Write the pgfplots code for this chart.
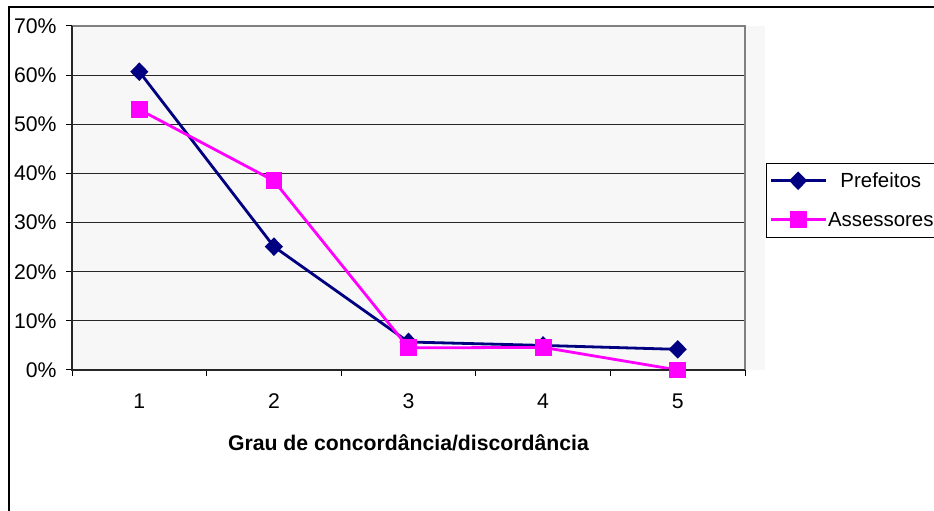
\documentclass[border=0pt]{standalone}
\usepackage{pgfplots}
\pgfplotsset{compat=1.18}
\usepackage{fontspec}
\setmainfont{Liberation Sans}
\definecolor{navyc}{HTML}{000080}
\definecolor{magc}{HTML}{FF00FF}
\definecolor{plotbg}{HTML}{F7F7F7}
\definecolor{bordergray}{HTML}{808080}
\begin{document}
\begin{tikzpicture}[x=1bp,y=1bp]
\useasboundingbox (0,0) rectangle (934,511);
\fill[white] (0,0) rectangle (934,511);
\draw[black, line width=1.3bp] (9,-5) -- (9,504) -- (945,504);
\fill[plotbg] (745,141) rectangle (765,485);
\begin{axis}[
  at={(72bp,141bp)}, anchor=south west,
  scale only axis, width=673bp, height=344bp,
  xmin=0.5, xmax=5.5, ymin=0, ymax=70,
  axis background/.style={fill=plotbg},
  axis line style={draw=none},
  xtick={0.5,1.5,2.5,3.5,4.5,5.5},
  x tick label as interval,
  xticklabels={1,2,3,4,5},
  ytick={0,10,...,70},
  yticklabel={\pgfmathprintnumber{\tick}\%},
  /pgf/number format/assume math mode=true,
  ymajorgrids,
  grid style={black!85, line width=1bp},
  tick align=outside, tick pos=left,
  major tick length=6bp,
  tick style={black, line width=1bp},
  every tick label/.append style={font=\fontsize{21.3}{25}\selectfont},
  yticklabel style={xshift=-6bp},
  xticklabel style={yshift=-14bp},
  xlabel={\textbf{Grau de concordância/discordância}},
  xlabel style={font=\fontsize{21.3}{25}\selectfont, yshift=-19bp},
  legend style={at={(rel axis cs:1.0312,0.6017)}, anchor=north west,
    draw=black, fill=white,
    font=\fontsize{20.5}{25}\selectfont,
    inner xsep=3bp, inner ysep=10bp, row sep=24bp, column sep=1bp,
    nodes={inner sep=0pt, text height=14bp, text depth=1bp}},
  legend cell align=center,
  legend image code/.code={\draw[mark repeat=2,mark phase=2,#1] plot coordinates {(0bp,0bp) (27.5bp,0bp) (55bp,0bp)};},
  clip=false,
]
\addplot[navyc, line width=2.8bp, mark=diamond*, mark size=7.3bp, mark options={xscale=1.3, solid, fill=navyc}]
  coordinates {(1,60.7) (2,25.1) (3,5.7) (4,5.0) (5,4.2)};
\addlegendentry{Prefeitos}
\addplot[magc, line width=2.8bp, mark=square*, mark size=7bp, mark options={solid, fill=magc}]
  coordinates {(1,53.0) (2,38.5) (3,4.5) (4,4.6) (5,0)};
\addlegendentry{Assessores}
\draw[bordergray, line width=2bp] (rel axis cs:0,1) -- (rel axis cs:1,1) -- (rel axis cs:1,0);
\draw[black!85, line width=2bp] (rel axis cs:0,1) -- (rel axis cs:0,0) -- (rel axis cs:1,0);
\end{axis}
\end{tikzpicture}
\end{document}
